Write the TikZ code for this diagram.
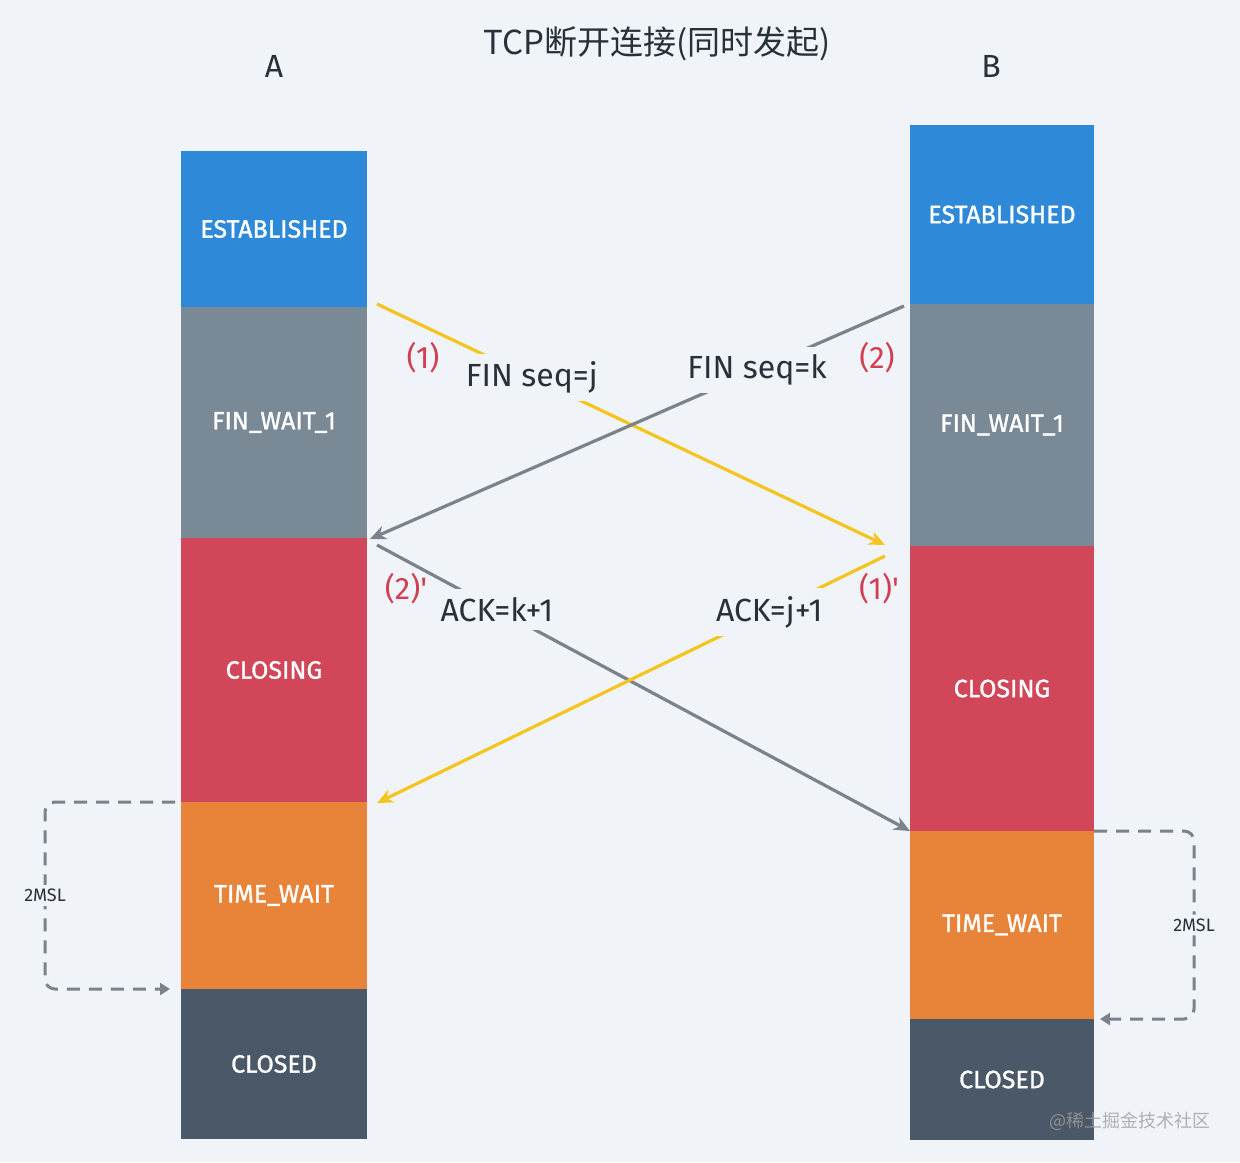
\documentclass[tikz,border=0pt]{standalone}
\usepackage{fontspec}
\setmainfont{Fira Sans}
\newfontfamily\cjkfont{Noto Sans CJK SC}
\newfontfamily\boxfont{Fira Sans}[FakeBold=1.2]
\usepackage{tikz}
\usepackage{xcolor}
\usetikzlibrary{positioning,arrows.meta}
\definecolor{bgGray}{RGB}{240,243,247}
\definecolor{txtDark}{RGB}{40,48,58}
\definecolor{estBlue}{RGB}{46,137,216}
\definecolor{finGray}{RGB}{122,137,150}
\definecolor{cloRed}{RGB}{210,70,90}
\definecolor{twOrange}{RGB}{232,131,58}
\definecolor{clDark}{RGB}{74,88,103}
\definecolor{ackYellow}{RGB}{245,196,30}
\definecolor{msgGray}{RGB}{122,130,140}
\definecolor{stepRed}{RGB}{210,62,82}
\tikzset{every picture/.style={line width=0.75pt}}
\tikzset{
  stbox/.style={inner sep=0pt, outer sep=0pt, minimum width=93pt, text=white,
    font=\boxfont\fontsize{12.5}{14}\selectfont},
  msgline/.style={line width=1.6pt, -{Stealth[length=8pt,width=7pt]}},
  msglabel/.style={fill=bgGray, inner sep=4pt, text=txtDark,
    font=\fontsize{16}{18}\selectfont},
  steplabel/.style={text=stepRed, font=\fontsize{15.5}{18}\selectfont},
  waitline/.style={color=msgGray, line width=1.5pt, dash pattern=on 6.5pt off 4.5pt,
    rounded corners=5pt, -{Triangle[length=5pt,width=6pt]}},
  msllabel/.style={fill=bgGray, inner sep=2pt, text=txtDark,
    font=\fontsize{9}{10}\selectfont},
}

\begin{document}
\begin{tikzpicture}[x=0.5pt,y=0.5pt,yscale=-1,xscale=1]
%set diagram to 1240 x 1162
\fill[bgGray] (0,0) rectangle (1240,1162);
\useasboundingbox (0,0) rectangle (1240,1162);

% Text Node
\node[text=txtDark, font=\cjkfont\fontsize{16.5}{20}\selectfont] (title) at (657,44) {TCP断开连接(同时发起)};
% Text Node
\node[text=txtDark, font=\fontsize{16}{20}\selectfont] (labA) at (274,66) {A};
% Text Node
\node[text=txtDark, font=\fontsize{16}{20}\selectfont] (labB) at (991,66) {B};

%Column A
\node[stbox, fill=estBlue, minimum height=78pt, anchor=north] (aEst) at (274,151) {ESTABLISHED};
\node[stbox, fill=finGray, minimum height=115.5pt, below=0pt of aEst] (aFin) {FIN\_WAIT\_1};
\node[stbox, fill=cloRed, minimum height=132pt, below=0pt of aFin] (aClo) {CLOSING};
\node[stbox, fill=twOrange, minimum height=93.5pt, below=0pt of aClo] (aTw) {TIME\_WAIT};
\node[stbox, fill=clDark, minimum height=75pt, below=0pt of aTw] (aCl) {CLOSED};

%Column B
\node[stbox, minimum width=92pt, fill=estBlue, minimum height=89.5pt, anchor=north] (bEst) at (1002,125) {ESTABLISHED};
\node[stbox, minimum width=92pt, fill=finGray, minimum height=121pt, below=0pt of bEst] (bFin) {FIN\_WAIT\_1};
\node[stbox, minimum width=92pt, fill=cloRed, minimum height=142.5pt, below=0pt of bFin] (bClo) {CLOSING};
\node[stbox, minimum width=92pt, fill=twOrange, minimum height=94pt, below=0pt of bClo] (bTw) {TIME\_WAIT};
\node[stbox, minimum width=92pt, fill=clDark, minimum height=60.5pt, below=0pt of bTw] (bCl) {CLOSED};

%Straight Lines
\draw[msgline, ackYellow] ([shift={(10,-3)}]aEst.south east) -- node[msglabel, pos=0.305] (finJ) {FIN seq=j} ([shift={(-25,-1)}]bFin.south west);
%Straight Lines
\draw[msgline, msgGray] ([shift={(-6,2)}]bEst.south west) -- node[msglabel, pos=0.275] (finK) {FIN seq=k} ([shift={(3,1)}]aFin.south east);
%Straight Lines
\draw[msgline, msgGray] ([shift={(10,7)}]aClo.north east) -- node[msglabel, pos=0.225] (ackK) {ACK=k+1} (bTw.north west);
%Straight Lines
\draw[msgline, ackYellow] ([shift={(-25,10)}]bClo.north west) -- node[msglabel, pos=0.228] (ackJ) {ACK=j+1} ([shift={(10,1)}]aTw.north east);

% Text Node
\node[steplabel] (stepA) at (423,358) {(1)};
% Text Node
\node[steplabel] (stepB) at (877,358) {(2)};
% Text Node
\node[steplabel] (stepBack) at (406,589) {(2)\textquotesingle};
% Text Node
\node[steplabel] (stepAack) at (879,589) {(1)\textquotesingle};

%Dashed Lines
\draw[waitline] ([shift={(-6,0)}]aTw.north west) -- ++(-130,0) |- node[msllabel, pos=0.25] (mslA) {2MSL} ([shift={(-11,0)}]aCl.north west);
%Dashed Lines
\draw[waitline] (bTw.north east) -- ++(100,0) |- node[msllabel, pos=0.25] (mslB) {2MSL} ([shift={(6,0)}]bCl.north east);

% Text Node
\node[text=gray!75, opacity=0.8, font=\cjkfont\fontsize{9}{11}\selectfont] (mark) at (1130,1121) {@稀土掘金技术社区};
\end{tikzpicture}
\end{document}
